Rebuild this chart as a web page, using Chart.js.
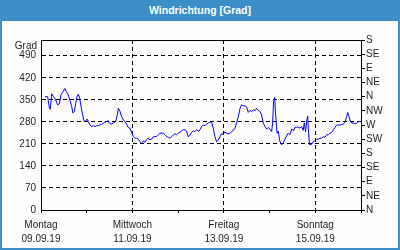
<!DOCTYPE html>
<html>
<head>
<meta charset="utf-8">
<script src="https://cdn.jsdelivr.net/npm/chart.js@4/dist/chart.umd.min.js"></script>
<style>
  html, body { margin: 0; padding: 0; background: #fcfdfc; }
  #frame { position: absolute; left: 0; top: 0; width: 400px; height: 250px; box-sizing: border-box; border: 2px solid #3b8ec6; border-top: none; background: #fcfdfc; }
  #head { position: absolute; left: 0; top: 0; width: 400px; height: 21px; background: #3b8ec6; color: #fff; font: bold 10.5px "Liberation Sans", Arial, sans-serif; text-align: center; line-height: 20px; }
  #c { position: absolute; left: 0; top: 0; }
</style>
</head>
<body>
<div id="frame"></div>
<div id="head">Windrichtung [Grad]</div>
<canvas id="c" width="400" height="250"></canvas>
<script>
// hours since 09.09.19 00:00
const hours = [2.1,3.5,4.4,4.9,5.6,6.6,7.7,8.7,9.6,10.5,11.2,12.6,13.3,14.3,15.2,16.1,16.8,17.5,18.2,18.9,19.6,20.3,21.0,21.7,22.4,23.1,24.2,24.8,25.7,26.6,27.5,28.4,29.2,30.1,31.0,31.8,32.7,33.6,34.4,35.3,35.9,36.8,38.0,38.9,39.4,40.1,40.6,41.5,42.3,43.2,44.1,44.9,45.8,46.7,47.6,48.5,49.4,50.2,51.1,52.0,52.8,53.7,54.6,55.4,56.3,57.2,58.1,59.0,59.8,60.7,61.6,62.5,63.3,64.2,65.1,65.9,66.8,67.7,68.6,69.5,70.3,71.2,72.1,73.0,73.8,74.7,75.6,76.4,77.3,78.2,79.1,80.0,80.9,81.7,82.6,83.5,84.3,85.2,86.1,86.9,87.8,88.7,89.6,90.4,91.3,92.2,93.1,94.0,94.8,95.7,96.6,97.4,98.3,99.2,100.1,101.0,101.8,102.7,103.6,104.5,105.3,106.2,107.1,108.0,108.8,109.7,110.6,111.5,112.4,113.2,114.1,115.0,115.8,116.7,117.6,118.5,119.3,120.2,121.1,121.6,122.1,122.7,123.0,123.4,123.9,124.6,125.3,126.3,127.2,128.1,128.9,129.8,130.7,131.6,132.5,133.4,134.2,135.1,136.0,136.8,137.7,138.2,138.9,139.4,140.0,140.3,140.9,141.2,142.1,143.0,143.9,144.7,145.6,146.5,147.3,148.2,149.1,150.0,150.8,151.7,152.6,153.5,154.4,155.2,156.1,157.0,157.8,158.7,159.6,160.5,161.0,161.7,162.4,163.2,164.1,165.0,165.8,166.7,167.6];
const degrees = [360,360,324,320,369,360,350,334,337,366,373,386,376,366,348,329,308,313,337,360,368,355,329,308,286,281,289,281,270,265,268,265,268,268,270,272,276,279,281,284,276,273,276,279,286,302,323,313,297,286,281,273,262,260,247,233,228,228,225,217,211,219,215,223,228,223,225,233,233,233,239,244,244,244,239,233,231,228,233,239,242,239,244,247,251,255,255,251,233,237,247,251,249,255,250,255,265,270,268,273,276,279,279,260,233,217,222,233,242,242,247,244,242,244,249,253,260,276,297,323,334,331,331,327,310,316,313,318,316,323,316,313,302,276,265,257,262,257,249,276,344,358,318,286,244,250,220,207,214,225,235,244,239,257,252,263,263,263,260,265,253,276,249,279,299,260,212,207,209,217,220,225,225,228,228,233,231,239,239,244,246,255,263,270,270,270,272,272,279,297,310,297,282,276,276,274,276,282,280];
const dayLabelHours = [0, 48, 96, 144];
const dayNames = ['Montag', 'Mittwoch', 'Freitag', 'Sonntag'];
const dayDates = ['09.09.19', '11.09.19', '13.09.19', '15.09.19'];
const compass = ['N', 'NE', 'E', 'SE', 'S', 'SW', 'W', 'NW'];

const FONT = { family: '"Liberation Sans", Arial, sans-serif', size: 10, lineHeight: 1.4 };
const TXT = '#1e1e1e';

const gradLabel = {
  id: 'gradLabel',
  afterDraw(chart) {
    const c = chart.ctx;
    c.save();
    c.font = '10px "Liberation Sans", Arial, sans-serif';
    c.fillStyle = TXT;
    c.textAlign = 'right';
    c.textBaseline = 'alphabetic';
    c.fillText('Grad', 37, 49);
    c.restore();
  }
};

new Chart(document.getElementById('c'), {
  type: 'line',
  data: {
    datasets: [{
      data: hours.map((h, i) => ({ x: h, y: degrees[i] })),
      borderColor: '#0000ff',
      borderWidth: 1,
      pointRadius: 0,
      tension: 0,
      fill: false
    }]
  },
  options: {
    responsive: false,
    animation: false,
    layout: { padding: { top: 40, left: 0, right: 0, bottom: 0 } },
    plugins: { legend: { display: false }, tooltip: { enabled: false }, title: { display: false } },
    scales: {
      x: {
        type: 'linear',
        min: 0, max: 168,
        afterFit: s => { s.height = 40; },
        border: { display: true, color: '#000', width: 1, dash: [4, 3] },
        grid: {
          drawOnChartArea: true,
          color: ctx => (ctx.tick && dayLabelHours.includes(ctx.tick.value) && ctx.tick.value > 0) ? '#000' : 'rgba(0,0,0,0)',
          tickColor: '#000',
          tickBorderDash: [],
          tickLength: 3,
          lineWidth: 1
        },
        ticks: {
          stepSize: 24,
          autoSkip: false,
          maxRotation: 0,
          minRotation: 0,
          padding: 5,
          color: TXT,
          font: FONT,
          callback: v => {
            const i = dayLabelHours.indexOf(v);
            return i >= 0 ? [dayNames[i], dayDates[i]] : '';
          }
        }
      },
      y: {
        position: 'left',
        min: 0, max: 540,
        afterFit: s => { s.width = 41; },
        border: { display: true, color: '#000', width: 1, dash: [4, 3] },
        grid: {
          drawTicks: false,
          color: ctx => (ctx.tick && ctx.tick.value > 0 && ctx.tick.value <= 490) ? '#000' : 'rgba(0,0,0,0)',
          lineWidth: 1
        },
        ticks: {
          stepSize: 70,
          includeBounds: false,
          autoSkip: false,
          padding: 5,
          color: TXT,
          font: FONT,
          callback: v => (v <= 490 ? String(v) : '')
        }
      },
      y2: {
        position: 'right',
        min: 0, max: 540,
        afterFit: s => { s.width = 39; },
        border: { display: true, color: '#000', width: 1 },
        grid: {
          drawOnChartArea: true,
          color: ctx => (ctx.tick && ctx.tick.value === 540) ? '#000' : 'rgba(0,0,0,0)',
          tickColor: '#000',
          tickLength: 4,
          lineWidth: 1
        },
        ticks: {
          stepSize: 45,
          autoSkip: false,
          padding: 1,
          color: TXT,
          font: FONT,
          callback: v => compass[Math.round(v / 45) % 8]
        }
      }
    }
  },
  plugins: [gradLabel]
});
</script>
</body>
</html>
